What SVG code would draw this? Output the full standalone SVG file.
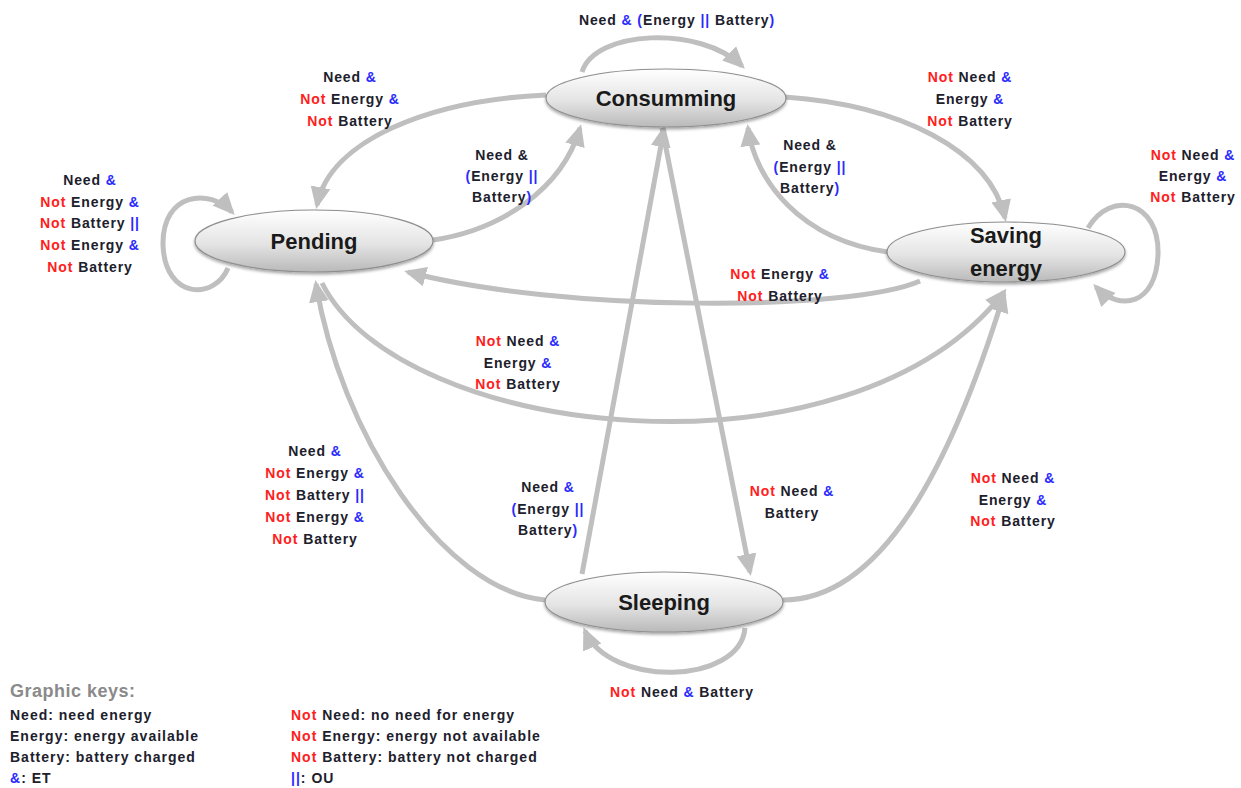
<svg xmlns="http://www.w3.org/2000/svg" width="1241" height="788" viewBox="0 0 1241 788">
<style>
.edge{fill:none;stroke:#bfbfbf;stroke-width:5;marker-end:url(#ah)}
.node{fill:url(#ng);stroke:#8f8f8f;stroke-width:1.2}
.nt{font-family:"Liberation Sans",Arial,sans-serif;font-weight:bold;font-size:22px;fill:#1a1a1a;text-anchor:middle}
.lb{font-family:"Liberation Sans",Arial,sans-serif;font-weight:bold;font-size:14px;letter-spacing:0.9px;fill:#20202c;text-anchor:middle}
.lg{font-family:"Liberation Sans",Arial,sans-serif;font-weight:bold;font-size:14px;letter-spacing:1px;fill:#20202c}
.r{fill:#ff2020}
.b{fill:#2a2aff}
</style>
<defs>
<linearGradient id="ng" x1="0" y1="0" x2="0" y2="1">
<stop offset="0" stop-color="#ffffff"/>
<stop offset="0.55" stop-color="#e4e4e4"/>
<stop offset="1" stop-color="#b9b9b9"/>
</linearGradient>
<filter id="sh" x="-10%" y="-20%" width="120%" height="150%">
<feDropShadow dx="0" dy="2" stdDeviation="1.5" flood-color="#000" flood-opacity="0.35"/>
</filter>
<marker id="ah" markerUnits="userSpaceOnUse" markerWidth="22" markerHeight="22" refX="18" refY="10" orient="auto" viewBox="0 0 22 20">
<path d="M0,0 L22,10 L0,20 z" fill="#bfbfbf"/>
</marker>
</defs>
<rect width="1241" height="788" fill="#ffffff"/>

<g id="connectors">
<path class="edge" d="M 582 72 C 595 30, 700 25, 742 66"/>
<path class="edge" d="M 546 95 C 430 100, 330 140, 317 205"/>
<path class="edge" d="M 433 240 C 500 230, 562 190, 580 128"/>
<path class="edge" d="M 785 97 C 900 105, 990 150, 1005 218"/>
<path class="edge" d="M 888 252 C 800 240, 755 180, 748 128"/>
<path class="edge" d="M 1088 228 C 1110 190, 1160 200, 1158 255 C 1156 305, 1120 312, 1096 287"/>
<path class="edge" d="M 920 281 C 850 312, 560 312, 408 272"/>
<path class="edge" d="M 228 268 C 215 300, 165 300, 163 245 C 162 192, 210 188, 232 212"/>
<path class="edge" d="M 322 283 C 400 440, 850 490, 1004 292"/>
<path class="edge" d="M 545 600 C 440 590, 340 430, 316 284"/>
<path class="edge" d="M 582 574 L 664 129"/>
<path class="edge" d="M 662 128 L 750 572"/>
<path class="edge" d="M 783 600 C 880 600, 950 470, 1004 294"/>
<path class="edge" d="M 745 628 C 740 685, 610 688, 585 631"/>
</g>

<g id="node-consumming">
<ellipse class="node" filter="url(#sh)" cx="666" cy="98" rx="120" ry="29"/>
<text class="nt" x="666" y="106">Consumming</text>
</g>
<g id="node-pending">
<ellipse class="node" filter="url(#sh)" cx="314" cy="241" rx="119" ry="31"/>
<text class="nt" x="314" y="249">Pending</text>
</g>
<g id="node-saving">
<ellipse class="node" filter="url(#sh)" cx="1006" cy="252" rx="119" ry="30"/>
<text class="nt" x="1006" y="243">Saving</text>
<text class="nt" x="1006" y="276">energy</text>
</g>
<g id="node-sleeping">
<ellipse class="node" filter="url(#sh)" cx="664" cy="602" rx="119" ry="30"/>
<text class="nt" x="664" y="610">Sleeping</text>
</g>

<g id="labels">
<text class="lb" x="677" y="25">Need <tspan class="b">&amp; (</tspan>Energy <tspan class="b">||</tspan> Battery<tspan class="b">)</tspan></text>

<text class="lb" x="350" y="82">Need <tspan class="b">&amp;</tspan></text>
<text class="lb" x="350" y="104"><tspan class="r">Not</tspan> Energy <tspan class="b">&amp;</tspan></text>
<text class="lb" x="350" y="126"><tspan class="r">Not</tspan> Battery</text>

<text class="lb" x="502" y="160">Need &amp;</text>
<text class="lb" x="502" y="181"><tspan class="b">(</tspan>Energy <tspan class="b">||</tspan></text>
<text class="lb" x="502" y="202">Battery<tspan class="b">)</tspan></text>

<text class="lb" x="970" y="82"><tspan class="r">Not</tspan> Need <tspan class="b">&amp;</tspan></text>
<text class="lb" x="970" y="104">Energy  <tspan class="b">&amp;</tspan></text>
<text class="lb" x="970" y="126"><tspan class="r">Not</tspan> Battery</text>

<text class="lb" x="810" y="150">Need &amp;</text>
<text class="lb" x="810" y="172"><tspan class="b">(</tspan>Energy <tspan class="b">||</tspan></text>
<text class="lb" x="810" y="193">Battery<tspan class="b">)</tspan></text>

<text class="lb" x="1193" y="160"><tspan class="r">Not</tspan> Need <tspan class="b">&amp;</tspan></text>
<text class="lb" x="1193" y="181">Energy  <tspan class="b">&amp;</tspan></text>
<text class="lb" x="1193" y="202"><tspan class="r">Not</tspan> Battery</text>

<text class="lb" x="90" y="185">Need <tspan class="b">&amp;</tspan></text>
<text class="lb" x="90" y="207"><tspan class="r">Not</tspan> Energy <tspan class="b">&amp;</tspan></text>
<text class="lb" x="90" y="228"><tspan class="r">Not</tspan> Battery <tspan class="b">||</tspan></text>
<text class="lb" x="90" y="250"><tspan class="r">Not</tspan> Energy  <tspan class="b">&amp;</tspan></text>
<text class="lb" x="90" y="272"><tspan class="r">Not</tspan> Battery</text>

<text class="lb" x="780" y="279"><tspan class="r">Not</tspan> Energy  <tspan class="b">&amp;</tspan></text>
<text class="lb" x="780" y="301"><tspan class="r">Not</tspan> Battery</text>

<text class="lb" x="518" y="346"><tspan class="r">Not</tspan> Need <tspan class="b">&amp;</tspan></text>
<text class="lb" x="518" y="368">Energy  <tspan class="b">&amp;</tspan></text>
<text class="lb" x="518" y="389"><tspan class="r">Not</tspan> Battery</text>

<text class="lb" x="315" y="456">Need <tspan class="b">&amp;</tspan></text>
<text class="lb" x="315" y="478"><tspan class="r">Not</tspan> Energy <tspan class="b">&amp;</tspan></text>
<text class="lb" x="315" y="500"><tspan class="r">Not</tspan> Battery <tspan class="b">||</tspan></text>
<text class="lb" x="315" y="522"><tspan class="r">Not</tspan> Energy  <tspan class="b">&amp;</tspan></text>
<text class="lb" x="315" y="544"><tspan class="r">Not</tspan> Battery</text>

<text class="lb" x="548" y="492">Need <tspan class="b">&amp;</tspan></text>
<text class="lb" x="548" y="514"><tspan class="b">(</tspan>Energy <tspan class="b">||</tspan></text>
<text class="lb" x="548" y="535">Battery<tspan class="b">)</tspan></text>

<text class="lb" x="792" y="496"><tspan class="r">Not</tspan> Need <tspan class="b">&amp;</tspan></text>
<text class="lb" x="792" y="518">Battery</text>

<text class="lb" x="1013" y="483"><tspan class="r">Not</tspan> Need <tspan class="b">&amp;</tspan></text>
<text class="lb" x="1013" y="505">Energy  <tspan class="b">&amp;</tspan></text>
<text class="lb" x="1013" y="526"><tspan class="r">Not</tspan> Battery</text>

<text class="lb" x="682" y="697"><tspan class="r">Not</tspan> Need <tspan class="b">&amp;</tspan> Battery</text>
</g>

<g id="legend">
<text x="10" y="697" font-family="Liberation Sans,Arial,sans-serif" font-weight="bold" font-size="18" letter-spacing="0.5" fill="#8a8a8a">Graphic keys:</text>
<text class="lg" x="10" y="720">Need: need energy</text>
<text class="lg" x="10" y="741">Energy: energy available</text>
<text class="lg" x="10" y="762">Battery: battery charged</text>
<text class="lg" x="10" y="783"><tspan class="b">&amp;</tspan>: ET</text>
<text class="lg" x="291" y="720"><tspan class="r">Not</tspan> Need: no need for energy</text>
<text class="lg" x="291" y="741"><tspan class="r">Not</tspan> Energy: energy not available</text>
<text class="lg" x="291" y="762"><tspan class="r">Not</tspan> Battery: battery  not charged</text>
<text class="lg" x="291" y="783"><tspan class="b">||</tspan>: OU</text>
</g>
</svg>
